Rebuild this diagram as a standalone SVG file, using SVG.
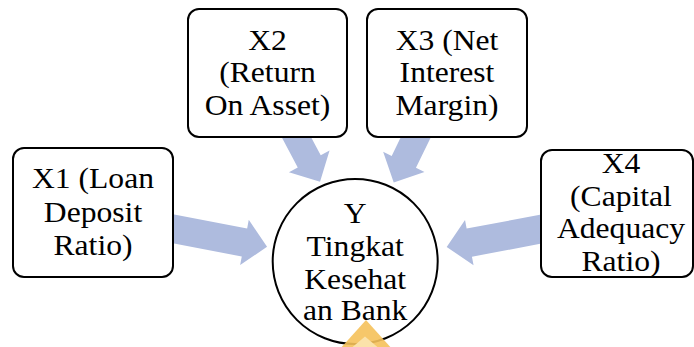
<svg xmlns="http://www.w3.org/2000/svg" width="694" height="347" viewBox="0 0 694 347">
<style>
.box{fill:#fff;stroke:#000;stroke-width:2}
.arr{fill:#AEBBDE}
.t{font-family:'Liberation Serif','Times New Roman',serif;font-size:29px;fill:#000;text-anchor:middle}
</style>
<rect width="694" height="347" fill="#fff"/>
<g id="connectors">
<polygon class="arr" points="0,-14.3 80.9,-14.3 80.9,-23 103.9,0 80.9,23 80.9,14.3 0,14.3" transform="translate(165,227.3) rotate(10.8)"/>
<polygon class="arr" points="0,-14.3 80,-14.3 80,-23 103,0 80,23 80,14.3 0,14.3" transform="translate(547.9,227.8) rotate(169.3)"/>
<polygon class="arr" points="0,-13 37.8,-13 37.8,-23 60.8,0 37.8,23 37.8,13 0,13" transform="translate(291.5,128) rotate(62)"/>
<polygon class="arr" points="0,-13.5 37.6,-13.5 37.6,-23 60.6,0 37.6,23 37.6,13.5 0,13.5" transform="translate(420.3,128) rotate(116)"/>
</g>
<g id="node-x2">
<rect class="box" x="188" y="9" width="159" height="128" rx="11"/>
<text class="t" transform="matrix(1.09 0 0 1 267.5 0)"><tspan x="0" y="50">X2</tspan><tspan x="0" y="82.5">(Return</tspan><tspan x="0" y="115">On Asset)</tspan></text>
</g>
<g id="node-x3">
<rect class="box" x="367" y="9" width="160" height="128" rx="11"/>
<text class="t" transform="matrix(1.09 0 0 1 447 0)"><tspan x="0" y="50">X3 (Net</tspan><tspan x="0" y="82.5">Interest</tspan><tspan x="0" y="115">Margin)</tspan></text>
</g>
<g id="node-x1">
<rect class="box" x="13" y="148" width="160" height="129" rx="11"/>
<text class="t" transform="matrix(1.09 0 0 1 93 0)"><tspan x="0" y="188.3">X1 (Loan</tspan><tspan x="0" y="221.7">Deposit</tspan><tspan x="0" y="255">Ratio)</tspan></text>
</g>
<g id="node-x4">
<rect class="box" x="541" y="150" width="152" height="127" rx="11"/>
<text class="t" transform="matrix(1.09 0 0 1 621 0)"><tspan x="0" y="173.3">X4</tspan><tspan x="0" y="205.7">(Capital</tspan><tspan x="0" y="238.3">Adequacy</tspan><tspan x="0" y="270.7">Ratio)</tspan></text>
</g>
<g id="node-y">
<circle class="box" cx="355.2" cy="261.5" r="82.5"/>
<text class="t" transform="matrix(1.09 0 0 1 355.2 0)"><tspan x="0" y="223.3">Y</tspan><tspan x="0" y="256">Tingkat</tspan><tspan x="0" y="288.8">Kesehat</tspan><tspan x="0" y="320.5">an Bank</tspan></text>
</g>
<polygon points="366,320 393,350 339,350" fill="#F5C15A" opacity="0.9"/>
<polygon points="365,336.5 381,350 349,350" fill="#FBE2AA"/>
</svg>
